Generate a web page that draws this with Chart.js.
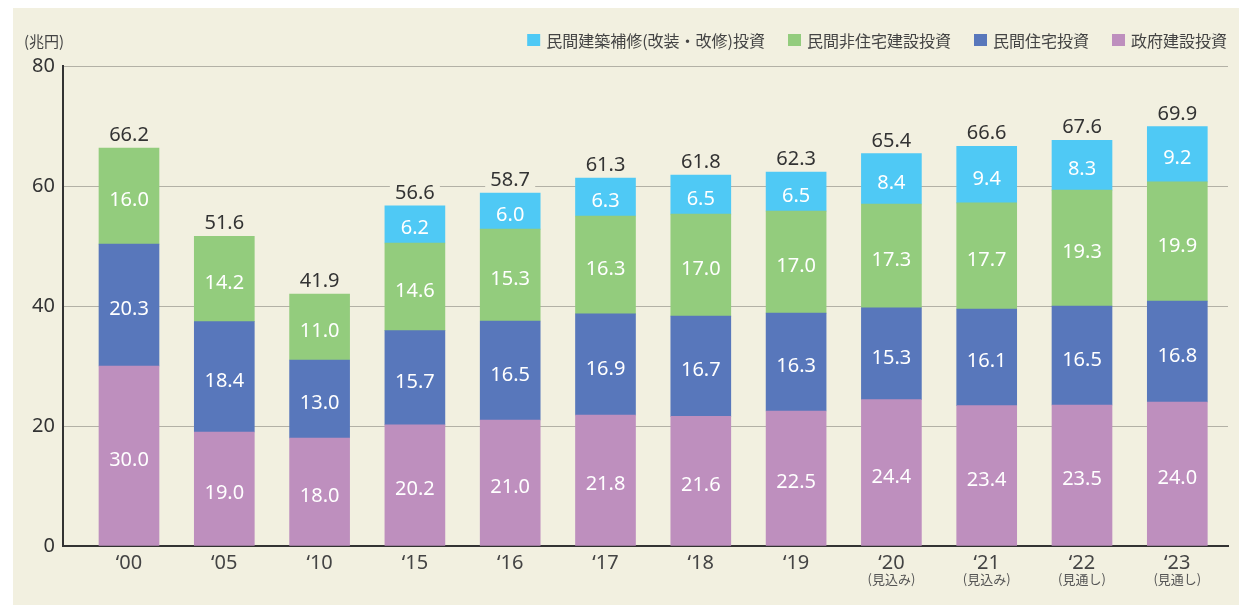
<!DOCTYPE html>
<html lang="ja">
<head>
<meta charset="utf-8">
<script src="https://cdn.jsdelivr.net/npm/chart.js@4.4.0/dist/chart.umd.min.js"></script>
<style>
  html, body { margin: 0; padding: 0; background: #fff; }
  #wrap { position: absolute; left: 13px; top: 8px; width: 1226px; height: 597px; background: #f2f0e0; }
  canvas { display: block; }
</style>
</head>
<body>
<div id="wrap"><canvas id="chart" width="1226" height="597"></canvas></div>
<script>
// data (兆円)
const years = ['‘00', '‘05', '‘10', '‘15', '‘16', '‘17', '‘18', '‘19', '‘20', '‘21', '‘22', '‘23'];
const notes = ['', '', '', '', '', '', '', '', '(見込み)', '(見込み)', '(見通し)', '(見通し)'];
const seriesNames = ['政府建設投資', '民間住宅投資', '民間非住宅建設投資', '民間建築補修(改装・改修)投資'];
const govt = [30.0, 19.0, 18.0, 20.2, 21.0, 21.8, 21.6, 22.5, 24.4, 23.4, 23.5, 24.0];
const housing = [20.3, 18.4, 13.0, 15.7, 16.5, 16.9, 16.7, 16.3, 15.3, 16.1, 16.5, 16.8];
const nonHousing = [16.0, 14.2, 11.0, 14.6, 15.3, 16.3, 17.0, 17.0, 17.3, 17.7, 19.3, 19.9];
const repair = [null, null, null, 6.2, 6.0, 6.3, 6.5, 6.5, 8.4, 9.4, 8.3, 9.2];
const totals = [66.2, 51.6, 41.9, 56.6, 58.7, 61.3, 61.8, 62.3, 65.4, 66.6, 67.6, 69.9];
const yTicks = [0, 20, 40, 60, 80];

const colors = ['#be8fbe', '#5877bb', '#93cc7d', '#4fc9f5'];
const bg = '#f2f0e0';
const seriesValues = [govt, housing, nonHousing, repair];
const numFont = '"Noto Sans", sans-serif';
const jpFont = '"Noto Sans CJK JP", sans-serif';

const datasets = seriesNames.map((name, s) => ({
    label: name,
    data: seriesValues[s].map((v, i) => ({ x: i, y: v })),
    backgroundColor: colors[s],
    borderWidth: 0,
    barThickness: 60
}));

// numbers in and above the bars, notes under the years, unit, legend
const extras = {
    id: 'extras',
    afterDatasetsDraw(chart) {
        const ctx = chart.ctx;
        ctx.save();
        ctx.textAlign = 'center';
        ctx.font = '20px ' + numFont;
        ctx.fillStyle = '#fff';
        const tops = [];
        chart.data.datasets.forEach((ds, s) => {
            chart.getDatasetMeta(s).data.forEach((bar, i) => {
                const v = seriesValues[s][i];
                if (v == null) return;
                tops[i] = tops[i] == null ? bar.y : Math.min(tops[i], bar.y);
                const mid = (bar.y + bar.base) / 2;
                ctx.fillText(v.toFixed(1), bar.x, mid + 10);
            });
        });
        totals.forEach((t, i) => {
            const x = chart.scales.x.getPixelForValue(i);
            const base = tops[i] - 7;
            ctx.fillStyle = bg;
            ctx.fillRect(x - 25, base - 17, 50, 20);
            ctx.fillStyle = '#333';
            ctx.fillText(t.toFixed(1), x, base);
        });
        ctx.restore();
    },
    afterDraw(chart) {
        const ctx = chart.ctx;
        const xs = chart.scales.x;
        ctx.save();
        ctx.textBaseline = 'middle';
        ctx.textAlign = 'center';
        ctx.fillStyle = '#555';
        ctx.font = '13px ' + jpFont;
        notes.forEach((n, i) => {
            if (n) ctx.fillText(n, xs.getPixelForValue(i), 571);
        });

        ctx.textAlign = 'left';
        ctx.fillStyle = '#444';
        ctx.font = '15px ' + jpFont;
        ctx.fillText('(兆円)', 11, 33);

        // legend, right aligned, reverse of stack order
        ctx.font = '16px ' + jpFont;
        const order = [3, 2, 1, 0];
        let total = 0;
        order.forEach((s, k) => {
            total += 13 + 6 + ctx.measureText(seriesNames[s]).width + (k < order.length - 1 ? 23 : 0);
        });
        let x = 1214 - total;
        order.forEach(s => {
            ctx.fillStyle = colors[s];
            ctx.fillRect(x, 26, 13, 12);
            x += 19;
            ctx.fillStyle = '#444';
            ctx.fillText(seriesNames[s], x, 33);
            x += ctx.measureText(seriesNames[s]).width + 23;
        });
        ctx.restore();
    }
};

const ctx = document.getElementById('chart').getContext('2d');
const myChart = new Chart(ctx, {
    type: 'bar',
    data: { datasets: datasets },
    options: {
        responsive: false,
        animation: false,
        layout: { padding: { top: 58, right: 11, left: 0, bottom: 0 } },
        plugins: {
            legend: { display: false },
            tooltip: { enabled: false }
        },
        scales: {
            x: {
                type: 'linear',
                stacked: true,
                offset: false,
                bounds: 'data',
                min: -0.6925,
                max: 11.532,
                grid: { display: false, drawTicks: false },
                border: { display: true, color: '#333', width: 2 },
                afterBuildTicks: s => { s.ticks = years.map((y, i) => ({ value: i })); },
                ticks: {
                    callback: v => years[v],
                    font: { family: numFont, size: 20 },
                    color: '#444',
                    padding: 5,
                    autoSkip: false,
                    maxRotation: 0
                },
                afterFit: s => { s.height = 59; }
            },
            y: {
                stacked: true,
                min: 0,
                max: 80,
                afterBuildTicks: s => { s.ticks = yTicks.map(v => ({ value: v })); },
                grid: { color: '#b3b1a6', lineWidth: 1, drawTicks: false },
                border: { display: true, color: '#333', width: 2 },
                ticks: {
                    font: { family: numFont, size: 20 },
                    color: '#333',
                    padding: 8
                },
                afterFit: s => { s.width = 50; }
            }
        }
    },
    plugins: [extras]
});
</script>
</body>
</html>
